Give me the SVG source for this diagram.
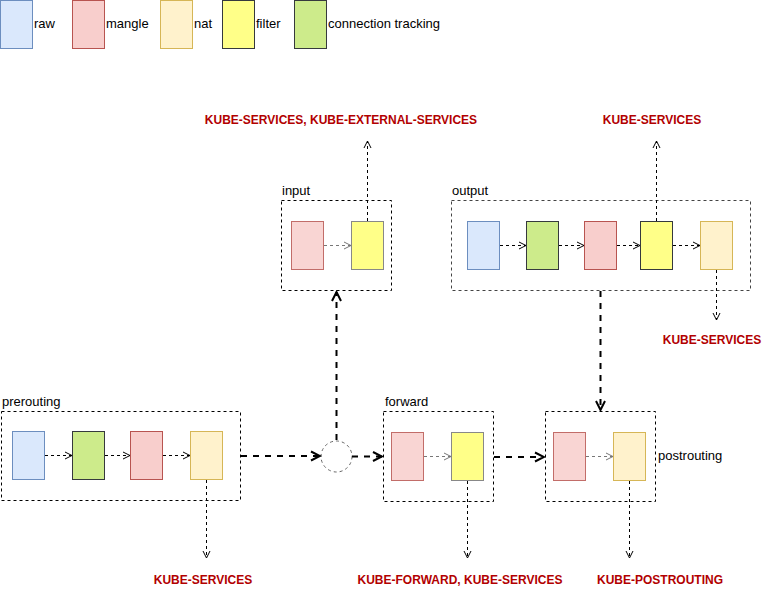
<svg xmlns="http://www.w3.org/2000/svg" width="772" height="591" viewBox="0 0 772 591">
<style>
text{font-family:"Liberation Sans",Arial,sans-serif;font-size:13px;fill:#000}
.lbl{font-weight:bold;font-size:12px;fill:#B20000;text-anchor:middle}
.raw{fill:#dae8fc;stroke:#6c8ebf}
.mangle{fill:#f8cecc;stroke:#b85450}
.nat{fill:#fff2cc;stroke:#d6b656}
.filter{fill:#ffff88;stroke:#36393d}
.ct{fill:#cdeb8b;stroke:#36393d}
.grp{fill:none;stroke:#000;stroke-dasharray:3 3}
.thin{fill:none;stroke:#000;stroke-dasharray:3 3;marker-end:url(#a)}
.thing{fill:none;stroke:#777;stroke-dasharray:3 3;marker-end:url(#ag)}
.thick{fill:none;stroke:#000;stroke-width:2;stroke-dasharray:6 6;marker-end:url(#b)}
</style>
<defs>
<marker id="a" markerUnits="userSpaceOnUse" markerWidth="10" markerHeight="10" refX="8" refY="5" orient="auto"><path d="M1,1.5 L8,5 L1,8.5" fill="none" stroke="#000"/></marker>
<marker id="ag" markerUnits="userSpaceOnUse" markerWidth="10" markerHeight="10" refX="8" refY="5" orient="auto"><path d="M1,1.5 L8,5 L1,8.5" fill="none" stroke="#777"/></marker>
<marker id="b" markerUnits="userSpaceOnUse" markerWidth="12" markerHeight="12" refX="10" refY="6" orient="auto"><path d="M1,1.5 L10,6 L1,10.5" fill="none" stroke="#000" stroke-width="2"/></marker>
</defs>
<g id="legend">
<rect class="raw" x="0.5" y="0.5" width="32" height="48"/><text x="34" y="28">raw</text>
<rect class="mangle" x="72.5" y="0.5" width="32" height="48"/><text x="106" y="28">mangle</text>
<rect class="nat" x="160.5" y="0.5" width="32" height="48"/><text x="194" y="28">nat</text>
<rect class="filter" x="222.5" y="0.5" width="32" height="48"/><text x="256" y="28">filter</text>
<rect class="ct" x="294.5" y="0.5" width="32" height="48"/><text x="328" y="28">connection tracking</text>
</g>
<g id="input">
<rect class="grp" x="281.5" y="200.5" width="110" height="90"/>
<text x="282" y="195">input</text>
<rect class="mangle" x="291.5" y="221.5" width="32" height="48" opacity="0.85"/>
<rect class="filter" x="351.5" y="221.5" width="32" height="48" style="stroke:#888"/>
</g>
<g id="output">
<rect class="grp" x="451.5" y="200.5" width="299" height="90" style="stroke:#444"/>
<text x="452" y="195">output</text>
<rect class="raw" x="467.5" y="221.5" width="32" height="48"/>
<rect class="ct" x="526.5" y="221.5" width="32" height="48"/>
<rect class="mangle" x="584.5" y="221.5" width="32" height="48"/>
<rect class="filter" x="640.5" y="221.5" width="32" height="48"/>
<rect class="nat" x="700.5" y="221.5" width="32" height="48"/>
</g>
<g id="prerouting">
<rect class="grp" x="1.5" y="411.5" width="239" height="89"/>
<text x="2" y="406">prerouting</text>
<rect class="raw" x="12.5" y="431.5" width="32" height="48"/>
<rect class="ct" x="72.5" y="431.5" width="32" height="48"/>
<rect class="mangle" x="130.5" y="431.5" width="32" height="48"/>
<rect class="nat" x="190.5" y="431.5" width="32" height="48"/>
</g>
<g id="junction">
<circle cx="336.5" cy="456.5" r="15.5" fill="#fff" stroke="#666" stroke-dasharray="3 3"/>
</g>
<g id="forward">
<rect class="grp" x="383.5" y="411.5" width="110" height="90"/>
<text x="385" y="406">forward</text>
<rect class="mangle" x="391.5" y="432.5" width="32" height="48" opacity="0.85"/>
<rect class="filter" x="451.5" y="432.5" width="32" height="48" style="stroke:#888"/>
</g>
<g id="postrouting">
<rect class="grp" x="545.5" y="411.5" width="110" height="90"/>
<text x="658" y="460">postrouting</text>
<rect class="mangle" x="553.5" y="432.5" width="32" height="48" opacity="0.85"/>
<rect class="nat" x="613.5" y="432.5" width="32" height="48"/>
</g>
<g id="labels">
<text class="lbl" x="341" y="124">KUBE-SERVICES, KUBE-EXTERNAL-SERVICES</text>
<text class="lbl" x="652" y="124">KUBE-SERVICES</text>
<text class="lbl" x="712" y="344">KUBE-SERVICES</text>
<text class="lbl" x="203" y="584">KUBE-SERVICES</text>
<text class="lbl" x="460" y="584">KUBE-FORWARD, KUBE-SERVICES</text>
<text class="lbl" x="660" y="584">KUBE-POSTROUTING</text>
</g>
<g id="connectors">
<path class="thing" d="M324,245.5 H351"/>
<path class="thin" d="M367.5,221 V141"/>
<path class="thin" d="M500,245.5 H526"/>
<path class="thin" d="M559,245.5 H584"/>
<path class="thin" d="M617,245.5 H640"/>
<path class="thin" d="M673,245.5 H700"/>
<path class="thin" d="M656.5,221 V141"/>
<path class="thin" d="M716.5,270 V320"/>
<path class="thick" d="M600.5,291 V410"/>
<path class="thin" d="M45,455.5 H72"/>
<path class="thin" d="M105,455.5 H130"/>
<path class="thin" d="M163,455.5 H190"/>
<path class="thin" d="M206.5,480 V558"/>
<path class="thick" d="M241,456 H320"/>
<path class="thick" d="M336.5,440 V292"/>
<path class="thick" d="M352,456.5 H382"/>
<path class="thing" d="M424,456.5 H451"/>
<path class="thin" d="M467.5,481 V558"/>
<path class="thick" d="M494,457 H544"/>
<path class="thing" d="M586,456.5 H613"/>
<path class="thin" d="M629.5,481 V558"/>
</g>
</svg>
